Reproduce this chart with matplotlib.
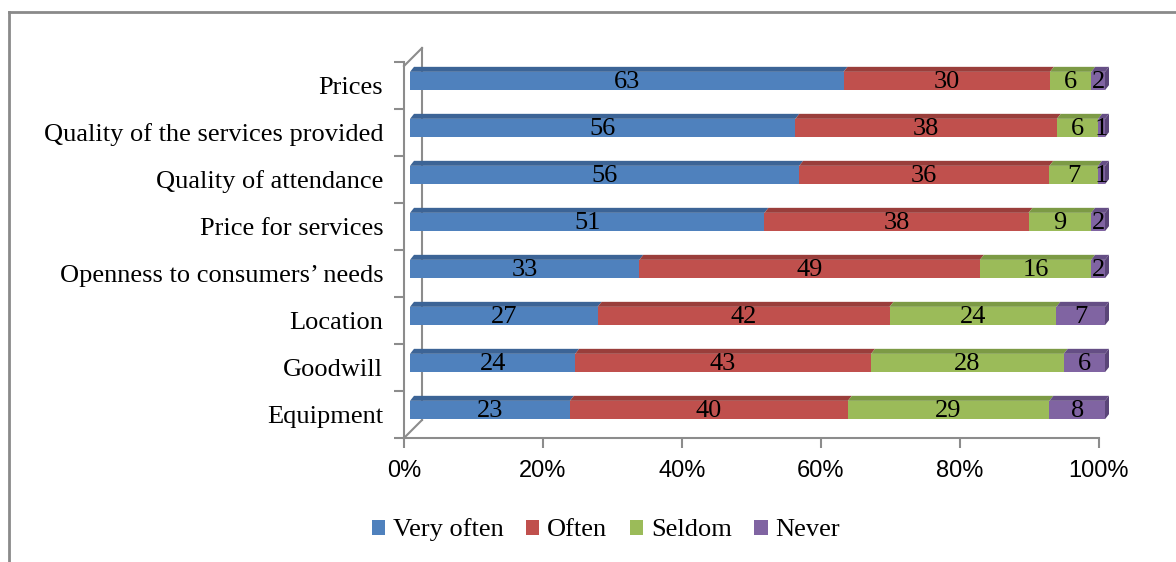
import numpy as np
import matplotlib
matplotlib.use("Agg")
import matplotlib.pyplot as plt
from matplotlib.patches import Polygon, Patch
from matplotlib.lines import Line2D

categories = ["Prices", "Quality of the services provided", "Quality of attendance",
              "Price for services", "Openness to consumers\u2019 needs", "Location",
              "Goodwill", "Equipment"]
very_often = [63, 56, 56, 51, 33, 27, 24, 23]
often = [30, 38, 36, 38, 49, 42, 43, 40]
seldom = [6, 6, 7, 9, 16, 24, 28, 29]
never = [2, 1, 1, 2, 2, 7, 6, 8]
series_names = ["Very often", "Often", "Seldom", "Never"]
xticks = [0, 0.2, 0.4, 0.6, 0.8, 1.0]
xticklabels = ["0%", "20%", "40%", "60%", "80%", "100%"]

front = ["#4F81BD", "#C0504D", "#9BBB59", "#8064A2"]
top = ["#3C6496", "#9A3E3B", "#7C9A45", "#654E85"]
side = "#5A4578"

W, H = 1176, 562
fig = plt.figure(figsize=(W / 100, H / 100), dpi=100)
# axes frame in pixels: x 404..1099, y 62..438
ax_l, ax_r, ax_t, ax_b = 404, 1099, 62, 438
ax = fig.add_axes([ax_l / W, 1 - ax_b / H, (ax_r - ax_l) / W, (ax_b - ax_t) / H])
ax.set_xlim(0, 1)
ax.set_ylim(-0.5, len(categories) - 0.5)

px = 1.0 / (ax_r - ax_l)
py = len(categories) / (ax_b - ax_t)
off_x, off_y = 6 * px, 4.5 * py       # front face shift
dep_x, dep_y = 4 * px, 5 * py         # 3d depth
bar_h = 0.39

data = np.array([very_often, often, seldom, never], dtype=float)
totals = data.sum(axis=0)
n = len(categories)
ypos = np.arange(n)[::-1]  # Prices on top

serif = "Liberation Serif"
fs = 19
for i in range(n):
    left = 0.0
    yc = ypos[i] + off_y
    yt = yc + bar_h / 2
    yb = yc - bar_h / 2
    for s in range(4):
        w = data[s, i] / totals[i]
        l = left + off_x
        r = l + w
        ax.barh(yc, w, left=l, height=bar_h, color=front[s], edgecolor="none",
                zorder=3, clip_on=False)
        ax.add_patch(Polygon([(l, yt), (r, yt), (r + dep_x, yt + dep_y), (l + dep_x, yt + dep_y)],
                             closed=True, facecolor=top[s], edgecolor="none", zorder=3,
                             clip_on=False))
        if s == 3:
            ax.add_patch(Polygon([(r, yb), (r, yt), (r + dep_x, yt + dep_y), (r + dep_x, yb + dep_y)],
                                 closed=True, facecolor=side, edgecolor="none", zorder=3,
                                 clip_on=False))
        ax.text(l + w / 2, yc - 0.02, str(int(data[s, i])), ha="center", va="center",
                fontsize=fs, family=serif, color="black", zorder=4, clip_on=False)
        left += w

# axes styling
for sp in ["top", "right"]:
    ax.spines[sp].set_visible(False)
ax.spines["left"].set_color("#8C8C8C")
ax.spines["bottom"].set_color("#8C8C8C")
ax.spines["left"].set_linewidth(1.5)
ax.spines["bottom"].set_linewidth(1.5)
ax.set_yticks(ypos)
ax.set_yticklabels(categories, fontsize=fs, family=serif)
ax.set_yticks(np.arange(-0.5, n, 1.0), minor=True)
ax.tick_params(axis="y", which="major", length=0, pad=15)
ax.tick_params(axis="y", which="minor", length=7, width=1.5, color="#8C8C8C")
ax.set_xticks(xticks)
ax.set_xticklabels(xticklabels, fontsize=17, family="Liberation Sans")
ax.tick_params(axis="x", length=7, width=1.5, color="#8C8C8C", pad=9)

# back wall lines (in axes fraction, from pixel positions)
def afx(x):
    return (x - ax_l) / (ax_r - ax_l)

def afy(y):
    return (ax_b - y) / (ax_b - ax_t)

wall = [((422, 48), (422, 420)), ((422, 420), (404, 438)), ((422, 48), (404, 66))]
for (x0, y0), (x1, y1) in wall:
    ax.add_line(Line2D([afx(x0), afx(x1)], [afy(y0), afy(y1)], transform=ax.transAxes,
                       color="#8C8C8C", lw=1.5, clip_on=False, zorder=1))

# legend
handles = [Patch(facecolor=c, edgecolor="none") for c in front]
fig.legend(handles, series_names, loc="center", bbox_to_anchor=(606 / W, 1 - 530 / H),
           ncol=4, frameon=False, prop={"family": serif, "size": fs},
           handlelength=0.5, handleheight=0.5, handletextpad=0.3, columnspacing=0.85)

# outer border (left and top only)
fig.add_artist(Line2D([9 / W, 9 / W], [0, 1 - 12 / H], transform=fig.transFigure,
                      color="#8A8A8A", lw=2))
fig.add_artist(Line2D([9 / W, 1], [1 - 12 / H, 1 - 12 / H], transform=fig.transFigure,
                      color="#8A8A8A", lw=2))

fig.savefig("out.png", dpi=100)
